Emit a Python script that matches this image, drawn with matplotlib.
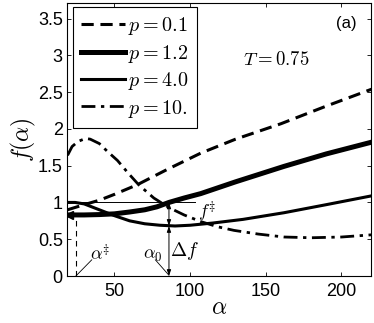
import matplotlib
matplotlib.use('Agg')
import matplotlib.pyplot as plt

plt.rcParams['mathtext.fontset'] = 'cm'
plt.rcParams['font.family'] = ['Liberation Sans', 'DejaVu Sans']

# curves (alpha, f)
a_01 = [19, 30, 40, 50, 65, 85, 107, 130, 160, 190, 220]
f_01 = [0.90, 0.97, 1.03, 1.11, 1.24, 1.45, 1.67, 1.86, 2.07, 2.31, 2.54]

a_12 = [19, 30, 40, 50, 60, 70, 78, 86, 96, 107, 130, 162, 190, 220]
f_12 = [0.83, 0.83, 0.835, 0.845, 0.87, 0.90, 0.94, 1.0, 1.06, 1.12, 1.28, 1.49, 1.66, 1.82]

a_40 = [19, 24, 30, 40, 50, 60, 70, 80, 90, 100, 115, 135, 162, 190, 220]
f_40 = [1.0, 1.0, 0.98, 0.90, 0.82, 0.75, 0.71, 0.69, 0.68, 0.69, 0.72, 0.77, 0.86, 0.97, 1.09]

a_10 = [19, 22, 26, 31, 34, 40, 45, 52, 59, 66, 76, 86, 96, 107, 118, 129, 145, 162, 180, 200, 220]
f_10 = [1.64, 1.76, 1.83, 1.87, 1.86, 1.80, 1.70, 1.57, 1.40, 1.24, 1.06, 0.93, 0.83, 0.74, 0.67, 0.62, 0.57, 0.53, 0.52, 0.53, 0.56]

labels = [r'$p=0.1$', r'$p=1.2$', r'$p=4.0$', r'$p=10.$']

f_dag = 1.0          # barrier height line
a_dag = 24.5         # alpha double-dagger
a_zero = 86          # alpha_0
f_min = 0.68         # curve value at alpha_0
f_start = 0.83

fig = plt.figure(figsize=(3.74, 3.23), dpi=100)
ax = fig.add_axes([0.179, 0.1455, 0.813, 0.845])

ax.plot(a_01, f_01, color='k', lw=2.2, dashes=(4, 2.2), label=labels[0])
ax.plot(a_12, f_12, color='k', lw=3.6, label=labels[1])
ax.plot(a_40, f_40, color='k', lw=2.2, label=labels[2])
ax.plot(a_10, f_10, color='k', lw=2.0, dashes=(5.0, 2.0, 1.2, 2.0), label=labels[3])
ax.plot([a_12[0] + 0.8], [f_start], marker='<', color='k', ms=6)

# annotation lines
ax.plot([19, 103.5], [f_dag, f_dag], color='k', lw=0.7)
ax.plot([a_dag, a_dag], [0, f_start], color='k', lw=0.8, dashes=(5, 4))
ax.plot([35, a_dag], [0.22, 0.0], color='k', lw=0.6)
ax.plot([77, a_zero], [0.22, 0.01], color='k', lw=0.6)
arr = dict(arrowstyle='<|-|>,head_length=0.35,head_width=0.12', color='k', lw=0.7,
           shrinkA=0, shrinkB=0)
ax.annotate('', xy=(a_zero, f_dag), xytext=(a_zero, f_min), arrowprops=arr)
ax.annotate('', xy=(a_zero, f_min), xytext=(a_zero, 0.0), arrowprops=arr)

ax.text(111.5, 0.87, r'$f^{\ddagger}$', fontsize=13, ha='center', va='center')
ax.text(40.6, 0.30, r'$\alpha^{\ddagger}$', fontsize=13, ha='center', va='center')
ax.text(75.2, 0.285, r'$\alpha_0$', fontsize=13, ha='center', va='center')
ax.text(96, 0.34, r'$\Delta f$', fontsize=14, ha='center', va='center')
ax.text(156.6, 2.93, r'$T=0.75$', fontsize=13.5, ha='center', va='center')
ax.text(203.4, 3.43, '(a)', fontsize=12, ha='center', va='center')

ax.set_xlim(18.6, 219.5)
ax.set_ylim(0, 3.71)
ax.set_xticks([50, 100, 150, 200])
ax.set_yticks([0, 0.5, 1, 1.5, 2, 2.5, 3, 3.5])
ax.set_yticklabels(['0', '0.5', '1', '1.5', '2', '2.5', '3', '3.5'])
ax.tick_params(direction='in', top=True, right=True, length=3, width=0.6, labelsize=13)
ax.tick_params(axis='x', pad=5)
ax.tick_params(axis='y', pad=3)
for s in ax.spines.values():
    s.set_linewidth(0.8)

ax.set_xlabel(r'$\alpha$', fontsize=17, labelpad=-2)
ax.set_ylabel(r'$f(\alpha)$', fontsize=17, labelpad=0)

leg = ax.legend(loc='upper left', bbox_to_anchor=(0.02, 0.985), borderaxespad=0,
                fontsize=14.5, handlelength=2.2, handletextpad=0.15, labelspacing=0.27,
                fancybox=False, edgecolor='k', framealpha=1, borderpad=0.4)
leg.get_frame().set_linewidth(0.8)

fig.savefig('out.png', dpi=100)
